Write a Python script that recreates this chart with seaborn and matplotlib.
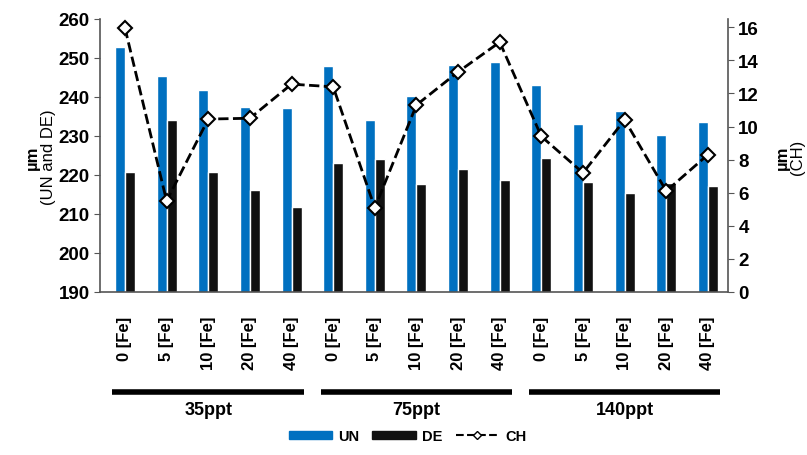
import pandas as pd
import seaborn as sns
from matplotlib import pyplot as plt
from matplotlib.lines import Line2D
from matplotlib.patches import Patch

sns.set_style("white")
plt.rcParams.update({
    "font.family": ["Liberation Sans", "DejaVu Sans"],
    "font.weight": "bold",
    "axes.labelweight": "bold",
    "text.color": "black",
    "xtick.color": "black",
    "ytick.color": "black",
    "axes.labelcolor": "black",
})

groups = ["35ppt", "75ppt", "140ppt"]
fe_levels = ["0 [Fe]", "5 [Fe]", "10 [Fe]", "20 [Fe]", "40 [Fe]"]

un_values = [252.9, 245.3, 241.8, 237.5, 237.1,
             247.9, 234.2, 240.3, 248.2, 249.0,
             243.1, 233.1, 236.3, 230.2, 233.7]
de_values = [220.8, 234.2, 220.8, 216.1, 211.8,
             223.0, 224.0, 217.6, 221.5, 218.7,
             224.4, 218.3, 215.4, 218.0, 217.1]
ch_values = [15.95, 5.5, 10.45, 10.5, 12.56,
             12.4, 5.08, 11.3, 13.3, 15.1,
             9.4, 7.2, 10.4, 6.1, 8.3]

BLUE = "#0070C0"
BLACK = "#111111"

cats = [f"{g} {f}" for g in groups for f in fe_levels]
tick_labels = [f for g in groups for f in fe_levels]

df = pd.DataFrame({"cat": cats, "UN": un_values, "DE": de_values, "CH": ch_values})
df_bars = df.melt(id_vars=["cat"], value_vars=["UN", "DE"],
                  var_name="series", value_name="um")

fig = plt.figure(figsize=(8.07, 4.56), dpi=100)
ax = fig.add_axes([0.1239, 0.3575, 0.7781, 0.5987])

sns.barplot(data=df_bars, x="cat", y="um", hue="series", order=cats,
            hue_order=["UN", "DE"], palette=[BLUE, BLACK], width=0.48,
            saturation=1, legend=False, ax=ax)
ax.set_ylim(190, 260)
ax.set_xlim(-0.6, 14.48)
ax.set_yticks(range(190, 261, 10))
ax.set_xticks(range(len(cats)))
ax.set_xticklabels(tick_labels, rotation=90, fontsize=12, fontweight="bold")
ax.set_xlabel("")
ax.set_ylabel("")
ax.tick_params(axis="y", labelsize=13.5, length=4, direction="out", color="#555555", left=True)
ax.tick_params(axis="x", length=0, pad=17)

ax2 = ax.twinx()
sns.lineplot(x=list(range(len(cats))), y=ch_values, ax=ax2, color="black",
             linestyle="--", linewidth=2, marker="D", markersize=7,
             markerfacecolor="white", markeredgecolor="black",
             markeredgewidth=1.5, legend=False)
ax2.set_ylim(0, 16.5)
ax2.set_yticks(range(0, 17, 2))
ax2.tick_params(axis="y", labelsize=13.5, length=4, direction="out", color="#555555", right=True)
ax2.set_xlim(-0.6, 14.48)

for a in (ax, ax2):
    a.spines["top"].set_visible(False)
    for s in ("left", "right", "bottom"):
        a.spines[s].set_color("#555555")
        a.spines[s].set_linewidth(1.2)
ax2.spines["left"].set_visible(False)
ax.spines["right"].set_visible(False)
ax2.spines["bottom"].set_visible(False)

# axis titles: bold unit, plain series names
fig.text(0.040, 0.655, "\u00b5m", rotation=90, ha="center", va="center",
         fontsize=12, fontweight="bold")
fig.text(0.060, 0.655, "(UN and DE)", rotation=90, ha="center", va="center",
         fontsize=12, fontweight="normal")
fig.text(0.970, 0.655, "\u00b5m", rotation=90, ha="center", va="center",
         fontsize=12, fontweight="bold")
fig.text(0.988, 0.655, "(CH)", rotation=90, ha="center", va="center",
         fontsize=12, fontweight="normal")

# group brackets under the tick labels
trans = ax.get_xaxis_transform()
for i, g in enumerate(groups):
    x0, x1 = i * 5 - 0.3, i * 5 + 4.3
    ax.plot([x0, x1], [-0.365, -0.365], color="black", linewidth=4,
            transform=trans, clip_on=False, solid_capstyle="butt")
    ax.text((x0 + x1) / 2, -0.432, g, transform=trans, ha="center", va="center",
            fontsize=13, fontweight="bold")

handles = [
    Patch(facecolor=BLUE, edgecolor=BLUE),
    Patch(facecolor=BLACK, edgecolor=BLACK),
    Line2D([0], [0], color="black", linestyle="--", linewidth=1.5, marker="D",
           markersize=4, markerfacecolor="white", markeredgecolor="black"),
]
fig.legend(handles, ["UN", "DE", "CH"], loc="center", bbox_to_anchor=(0.505, 0.042),
           ncol=3, frameon=False, handlelength=3.0, handleheight=0.5,
           columnspacing=0.9, handletextpad=0.4, prop={"weight": "bold", "size": 10.5})

plt.savefig("out.png", dpi=100)
plt.close()
